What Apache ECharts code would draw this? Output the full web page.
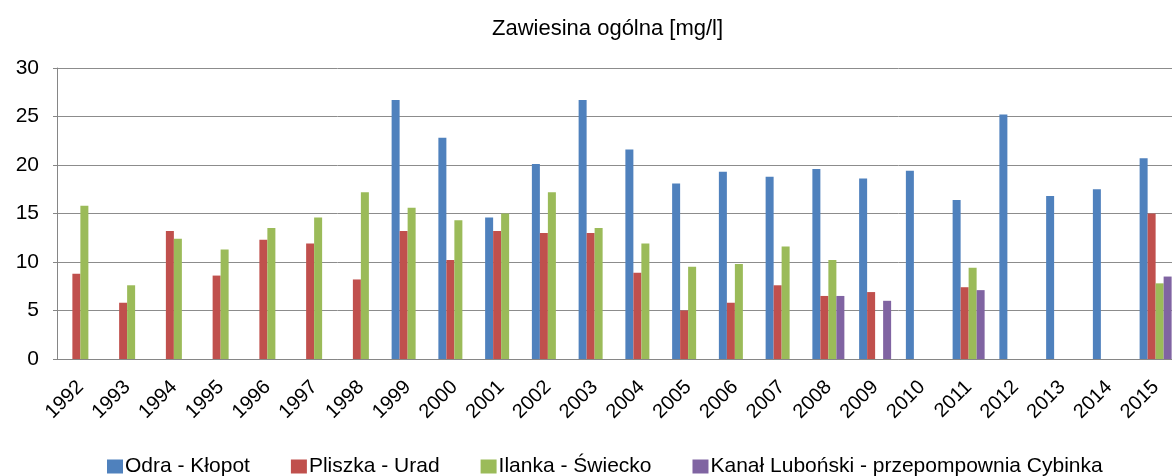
<!DOCTYPE html>
<html>
<head>
<meta charset="utf-8">
<script src="https://cdn.jsdelivr.net/npm/echarts@6/dist/echarts.min.js"></script>
<style>
  html, body { margin: 0; padding: 0; background: #fff; overflow: hidden; }
  #main { width: 1180px; height: 476px; }
</style>
</head>
<body>
<div id="main"></div>
<script>
var years = ['1992', '1993', '1994', '1995', '1996', '1997', '1998', '1999', '2000', '2001', '2002', '2003',
  '2004', '2005', '2006', '2007', '2008', '2009', '2010', '2011', '2012', '2013', '2014', '2015'];

var odra = [null, null, null, null, null, null, null, 26.7, 22.8, 14.6, 20.1, 26.7,
  21.6, 18.1, 19.3, 18.8, 19.6, 18.6, 19.4, 16.4, 25.2, 16.8, 17.5, 20.7];
var pliszka = [8.8, 5.8, 13.2, 8.6, 12.3, 11.9, 8.2, 13.2, 10.2, 13.2, 13.0, 13.0,
  8.9, 5.0, 5.8, 7.6, 6.5, 6.9, null, 7.4, null, null, null, 15.0];
var ilanka = [15.8, 7.6, 12.4, 11.3, 13.5, 14.6, 17.2, 15.6, 14.3, 15.0, 17.2, 13.5,
  11.9, 9.5, 9.8, 11.6, 10.2, null, null, 9.4, null, null, null, 7.8];
var kanal = [null, null, null, null, null, null, null, null, null, null, null, null,
  null, null, null, null, 6.5, 6.0, null, 7.1, null, null, null, 8.5];

var yTicks = [0, 5, 10, 15, 20, 25, 30];

var chartDom = document.getElementById('main');
var myChart = echarts.init(chartDom);
var font = 'Liberation Sans, Arial, sans-serif';

function bar(name, data, color) {
  return {
    name: name,
    type: 'bar',
    data: data,
    barWidth: 8,
    barGap: '0%',
    itemStyle: { color: color },
    animation: false
  };
}

var option = {
  backgroundColor: '#fff',
  title: {
    text: 'Zawiesina ogólna [mg/l]',
    left: 487,
    top: 13,
    textStyle: { fontFamily: font, fontSize: 22, fontWeight: 'normal', color: '#000' }
  },
  legend: {
    top: 451,
    left: 102,
    icon: 'rect',
    itemWidth: 16,
    itemHeight: 14,
    itemGap: 41,
    textStyle: { fontFamily: font, fontSize: 21, color: '#000', padding: [0, 0, 0, -3] },
    data: ['Odra - Kłopot', 'Pliszka - Urad', 'Ilanka - Świecko', 'Kanał Luboński - przepompownia Cybinka']
  },
  grid: {
    left: 57,
    top: 68,
    bottom: 117,
    right: 1
  },
  xAxis: {
    type: 'category',
    data: years,
    axisLine: { lineStyle: { color: '#868686' } },
    axisTick: { show: false },
    axisLabel: {
      rotate: 45,
      margin: 25,
      interval: 0,
      fontFamily: font,
      fontSize: 20,
      color: '#000'
    }
  },
  yAxis: {
    type: 'value',
    min: yTicks[0],
    max: yTicks[yTicks.length - 1],
    interval: 5,
    axisLine: { show: true, lineStyle: { color: '#868686' } },
    axisTick: { show: true, length: 4, lineStyle: { color: '#868686' } },
    splitLine: { lineStyle: { color: '#8c8c8c' } },
    axisLabel: { margin: 18, fontFamily: font, fontSize: 21, color: '#000' }
  },
  series: [
    bar('Odra - Kłopot', odra, '#4F81BD'),
    bar('Pliszka - Urad', pliszka, '#C0504D'),
    bar('Ilanka - Świecko', ilanka, '#9BBB59'),
    bar('Kanał Luboński - przepompownia Cybinka', kanal, '#8064A2')
  ]
};

option && myChart.setOption(option);
</script>
</body>
</html>
